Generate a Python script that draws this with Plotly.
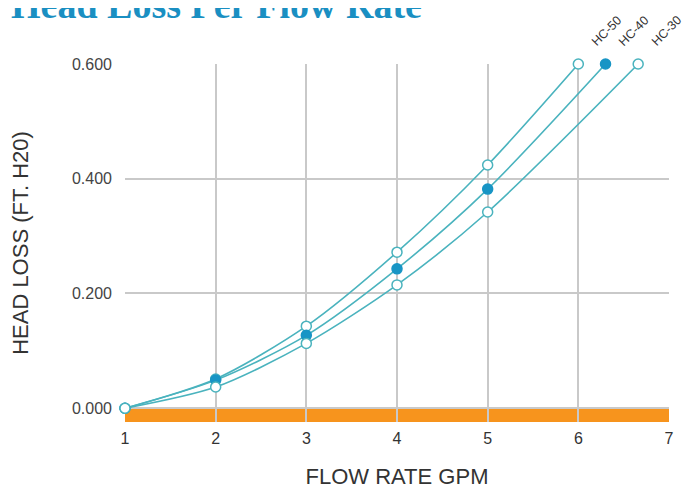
import plotly.graph_objects as go

flow = [1, 2, 3, 4, 5]
hc50 = [0.0, 0.051, 0.143, 0.272, 0.424]
hc40 = [0.0, 0.049, 0.127, 0.243, 0.382]
hc30 = [0.0, 0.037, 0.113, 0.215, 0.342]
end_flow = {"HC-50": 6.0, "HC-40": 6.3, "HC-30": 6.66}
end_loss = 0.6
x_ticks = [1, 2, 3, 4, 5, 6, 7]
y_ticks = [0.0, 0.2, 0.4, 0.6]
y_tick_text = ["0.000", "0.200", "0.400", "0.600"]

LINE = "#4ab3be"
FILL = "#1895c5"
GRID = "#c9c9c9"

fig = go.Figure()

data = {"HC-50": hc50, "HC-40": hc40, "HC-30": hc30}
filled = {"HC-50": False, "HC-40": True, "HC-30": False}

# lines
for name in ["HC-30", "HC-50", "HC-40"]:
    fig.add_trace(go.Scatter(
        x=flow + [end_flow[name]], y=data[name] + [end_loss], mode="lines",
        line=dict(color=LINE, width=1.6, shape="spline", smoothing=0.8),
        cliponaxis=False, showlegend=False, hoverinfo="skip",
    ))
# markers
for name in ["HC-50", "HC-40", "HC-30"]:
    f = filled[name]
    fig.add_trace(go.Scatter(
        x=flow + [end_flow[name]], y=data[name] + [end_loss], mode="markers", name=name,
        marker=dict(size=10, color=FILL if f else "white",
                    line=dict(color=FILL if f else LINE, width=1.5)),
        cliponaxis=False, showlegend=False,
    ))

# orange base band
fig.add_shape(type="rect", xref="x", yref="y", x0=1, x1=7, y0=-0.024, y1=0,
              fillcolor="#f7941d", line=dict(width=0), layer="below")

for name in ["HC-50", "HC-40", "HC-30"]:
    fig.add_annotation(x=end_flow[name], y=end_loss, xref="x", yref="y",
                       text=name, showarrow=False, textangle=-45,
                       xanchor="left", yanchor="bottom", xshift=8, yshift=12,
                       font=dict(family="Liberation Sans, Arial", size=12.5, color="#333333"))

fig.add_annotation(x=-0.214, y=1, xref="paper", yref="paper", text="<b>Head Loss Per Flow Rate</b>",
                   showarrow=False, xanchor="left", yanchor="middle", yshift=59,
                   font=dict(family="Liberation Serif, Times New Roman", size=38, color="#1a8fc2"))

fig.update_layout(
    width=687, height=481,
    margin=dict(l=117, r=26, t=56, b=67, autoexpand=False),
    paper_bgcolor="white", plot_bgcolor="white",
    xaxis=dict(range=[1, 7], tickvals=x_ticks, showgrid=True, gridcolor=GRID, gridwidth=1.5,
               zeroline=False, showline=False, ticks="", ticklabelstandoff=5, automargin=False,
               tickfont=dict(family="Liberation Sans, Arial", size=16, color="#333333"),
               title=dict(text="FLOW RATE GPM", standoff=24,
                          font=dict(family="Liberation Sans, Arial", size=22, color="#333333"))),
    yaxis=dict(range=[-0.024, 0.6], tickvals=y_ticks, ticktext=y_tick_text, showgrid=True,
               gridcolor=GRID, gridwidth=1.5, zeroline=False, showline=False, ticks="",
               ticklabelstandoff=12, automargin=False,
               tickfont=dict(family="Liberation Sans, Arial", size=16, color="#444444"),
               title=dict(text="HEAD LOSS (FT. H20)", standoff=38,
                          font=dict(family="Liberation Sans, Arial", size=22, color="#333333"))),
)

fig.write_html("out.html")
